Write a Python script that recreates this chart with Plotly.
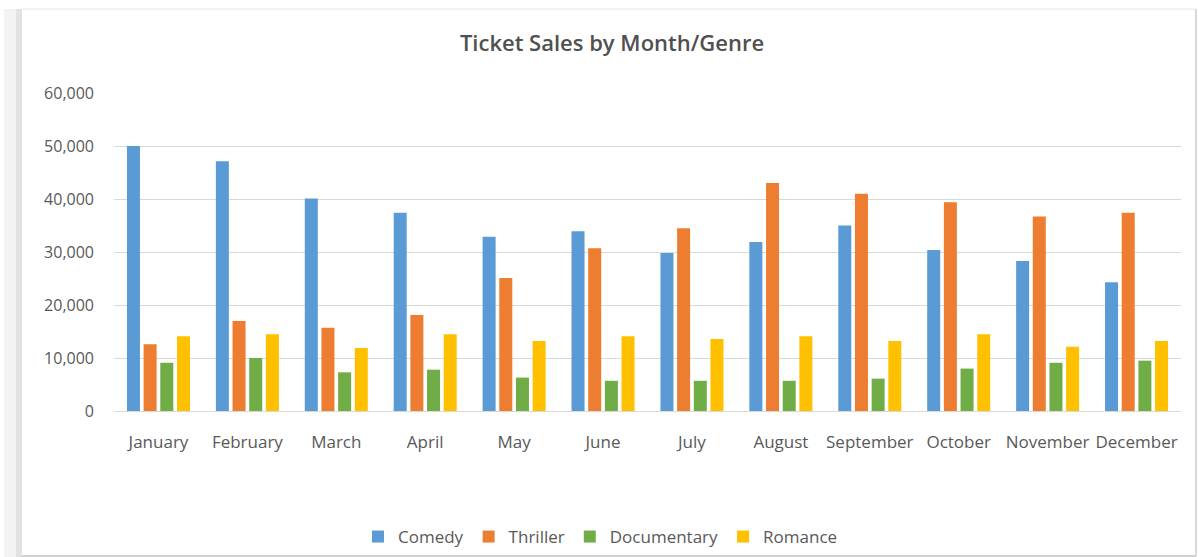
import plotly.graph_objects as go

months = ["January", "February", "March", "April", "May", "June",
          "July", "August", "September", "October", "November", "December"]

comedy = [50000, 47100, 40100, 37400, 32900, 33900, 29800, 31900, 35000, 30400, 28300, 24300]
thriller = [12600, 17000, 15700, 18100, 25100, 30700, 34500, 43000, 41000, 39400, 36700, 37400]
documentary = [9100, 10000, 7300, 7800, 6300, 5700, 5700, 5700, 6100, 8000, 9100, 9500]
romance = [14100, 14500, 11900, 14500, 13200, 14100, 13600, 14100, 13200, 14500, 12100, 13200]

series = [
    ("Comedy", comedy, "#5B9BD5"),
    ("Thriller", thriller, "#ED7D31"),
    ("Documentary", documentary, "#70AD47"),
    ("Romance", romance, "#FFC000"),
]

FONT = "'Open Sans', Lato, sans-serif"
TEXT = "#595959"

fig = go.Figure()
for name, vals, color in series:
    fig.add_trace(go.Bar(name=name, x=months, y=vals, marker_color=color,
                         marker_line_width=0))

# plot area in pixels
L, R, T, B = 114, 1181, 93, 411
W, H = 1198, 557


def px_x(p):
    return (p - L) / (R - L)


def px_y(p):
    return (B - p) / (B - T)


shapes = [
    # soft shadow along the left edge of the chart card
    dict(type="rect", xref="paper", yref="paper", x0=px_x(4), x1=px_x(16),
         y0=px_y(557), y1=px_y(9), fillcolor="#f3f3f3", line_width=0, layer="below"),
    dict(type="rect", xref="paper", yref="paper", x0=px_x(16), x1=px_x(22),
         y0=px_y(557), y1=px_y(9), fillcolor="#e2e2e2", line_width=0, layer="below"),
    # card outline: top, right, bottom
    dict(type="line", xref="paper", yref="paper", x0=px_x(22), x1=px_x(1196),
         y0=px_y(9), y1=px_y(9), line=dict(color="#f2f2f2", width=2)),
    dict(type="line", xref="paper", yref="paper", x0=px_x(1196), x1=px_x(1196),
         y0=px_y(9), y1=px_y(556), line=dict(color="#d8d8d8", width=2)),
    dict(type="line", xref="paper", yref="paper", x0=px_x(22), x1=px_x(1196),
         y0=px_y(556), y1=px_y(556), line=dict(color="#d0d0d0", width=2)),
]

fig.update_layout(
    width=W, height=H,
    margin=dict(l=L, r=W - R, t=T, b=H - B, pad=0, autoexpand=False),
    paper_bgcolor="white", plot_bgcolor="white",
    font=dict(family=FONT, color=TEXT, size=16),
    title=dict(text="Ticket Sales by Month/Genre", xref="container", yref="container",
               x=612 / W, y=1 - 43 / H, xanchor="center", yanchor="middle",
               font=dict(family=FONT, size=22, color="#505050", weight=600)),
    barmode="group", bargap=0.25, bargroupgap=0.22,
    showlegend=True,
    legend=dict(orientation="h", xanchor="left", yanchor="middle",
                x=px_x(358), y=px_y(537), font=dict(size=17, color=TEXT),
                traceorder="normal"),
    shapes=shapes,
)

fig.update_xaxes(automargin=False, showgrid=False, showline=False, ticks="",
                 ticklabelstandoff=19, tickfont=dict(size=17, color=TEXT))
fig.update_yaxes(automargin=False, range=[0, 60000], dtick=10000, tickformat=",",
                 showgrid=True, gridcolor="#d9d9d9", gridwidth=1, zeroline=True,
                 zerolinecolor="#d9d9d9", zerolinewidth=1, showline=False, ticks="",
                 ticklabelstandoff=19, tickfont=dict(size=16, color=TEXT))

fig.write_html("out.html")
